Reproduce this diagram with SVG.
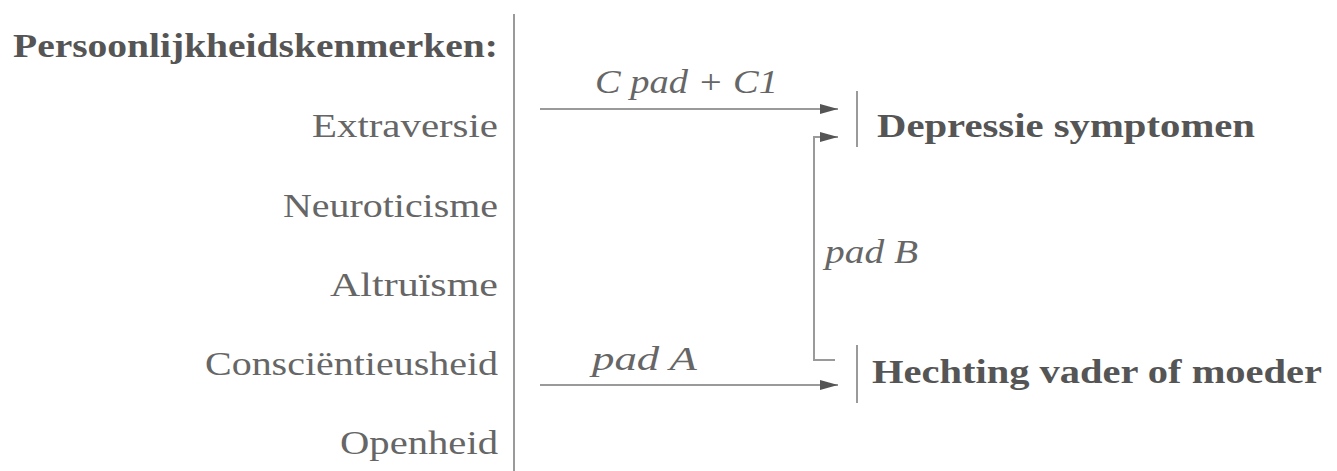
<svg xmlns="http://www.w3.org/2000/svg" width="1337" height="471" viewBox="0 0 1337 471">
<defs>
<style>
.lbl{font-family:"Liberation Serif",serif;font-size:33px;fill:#666;text-anchor:end}
.bold{font-family:"Liberation Serif",serif;font-size:33px;font-weight:bold;fill:#555}
.it{font-family:"Liberation Serif",serif;font-size:33px;font-style:italic;fill:#666}
.ln{stroke:#9a9a9a;stroke-width:2;fill:none}
</style>
<marker id="ah" viewBox="0 0 18 10" refX="18" refY="5" markerWidth="18" markerHeight="10" markerUnits="userSpaceOnUse" orient="auto">
<path d="M0,0 L18,5 L0,10 z" fill="#555"/>
</marker>
</defs>
<rect width="1337" height="471" fill="#fff"/>
<g id="traits">
<line class="ln" x1="514" y1="14" x2="514" y2="471"/>
<text class="bold" x="498" y="57" text-anchor="end" textLength="485" lengthAdjust="spacingAndGlyphs">Persoonlijkheidskenmerken:</text>
<text class="lbl" x="498" y="137" textLength="186" lengthAdjust="spacingAndGlyphs">Extraversie</text>
<text class="lbl" x="498" y="217" textLength="215" lengthAdjust="spacingAndGlyphs">Neuroticisme</text>
<text class="lbl" x="498" y="296" textLength="168" lengthAdjust="spacingAndGlyphs">Altruïsme</text>
<text class="lbl" x="498" y="375" textLength="293" lengthAdjust="spacingAndGlyphs">Consciëntieusheid</text>
<text class="lbl" x="498" y="454" textLength="158" lengthAdjust="spacingAndGlyphs">Openheid</text>
</g>
<g id="depressie">
<line class="ln" x1="857" y1="91" x2="857" y2="147"/>
<text class="bold" x="877" y="137" textLength="378" lengthAdjust="spacingAndGlyphs">Depressie symptomen</text>
</g>
<g id="hechting">
<line class="ln" x1="857" y1="345" x2="857" y2="403"/>
<text class="bold" x="872" y="383" textLength="450" lengthAdjust="spacingAndGlyphs">Hechting vader of moeder</text>
</g>
<g id="connectors">
<line class="ln" x1="540" y1="109" x2="838" y2="109" marker-end="url(#ah)"/>
<text class="it" x="595" y="93" textLength="183" lengthAdjust="spacingAndGlyphs">C pad + C1</text>
<line class="ln" x1="540" y1="385" x2="838" y2="385" marker-end="url(#ah)"/>
<text class="it" x="592" y="370" textLength="105" lengthAdjust="spacingAndGlyphs">pad A</text>
<polyline class="ln" points="835,360 814,360 814,137 838,137" marker-end="url(#ah)"/>
<text class="it" x="825" y="263" textLength="93" lengthAdjust="spacingAndGlyphs">pad B</text>
</g>
</svg>
